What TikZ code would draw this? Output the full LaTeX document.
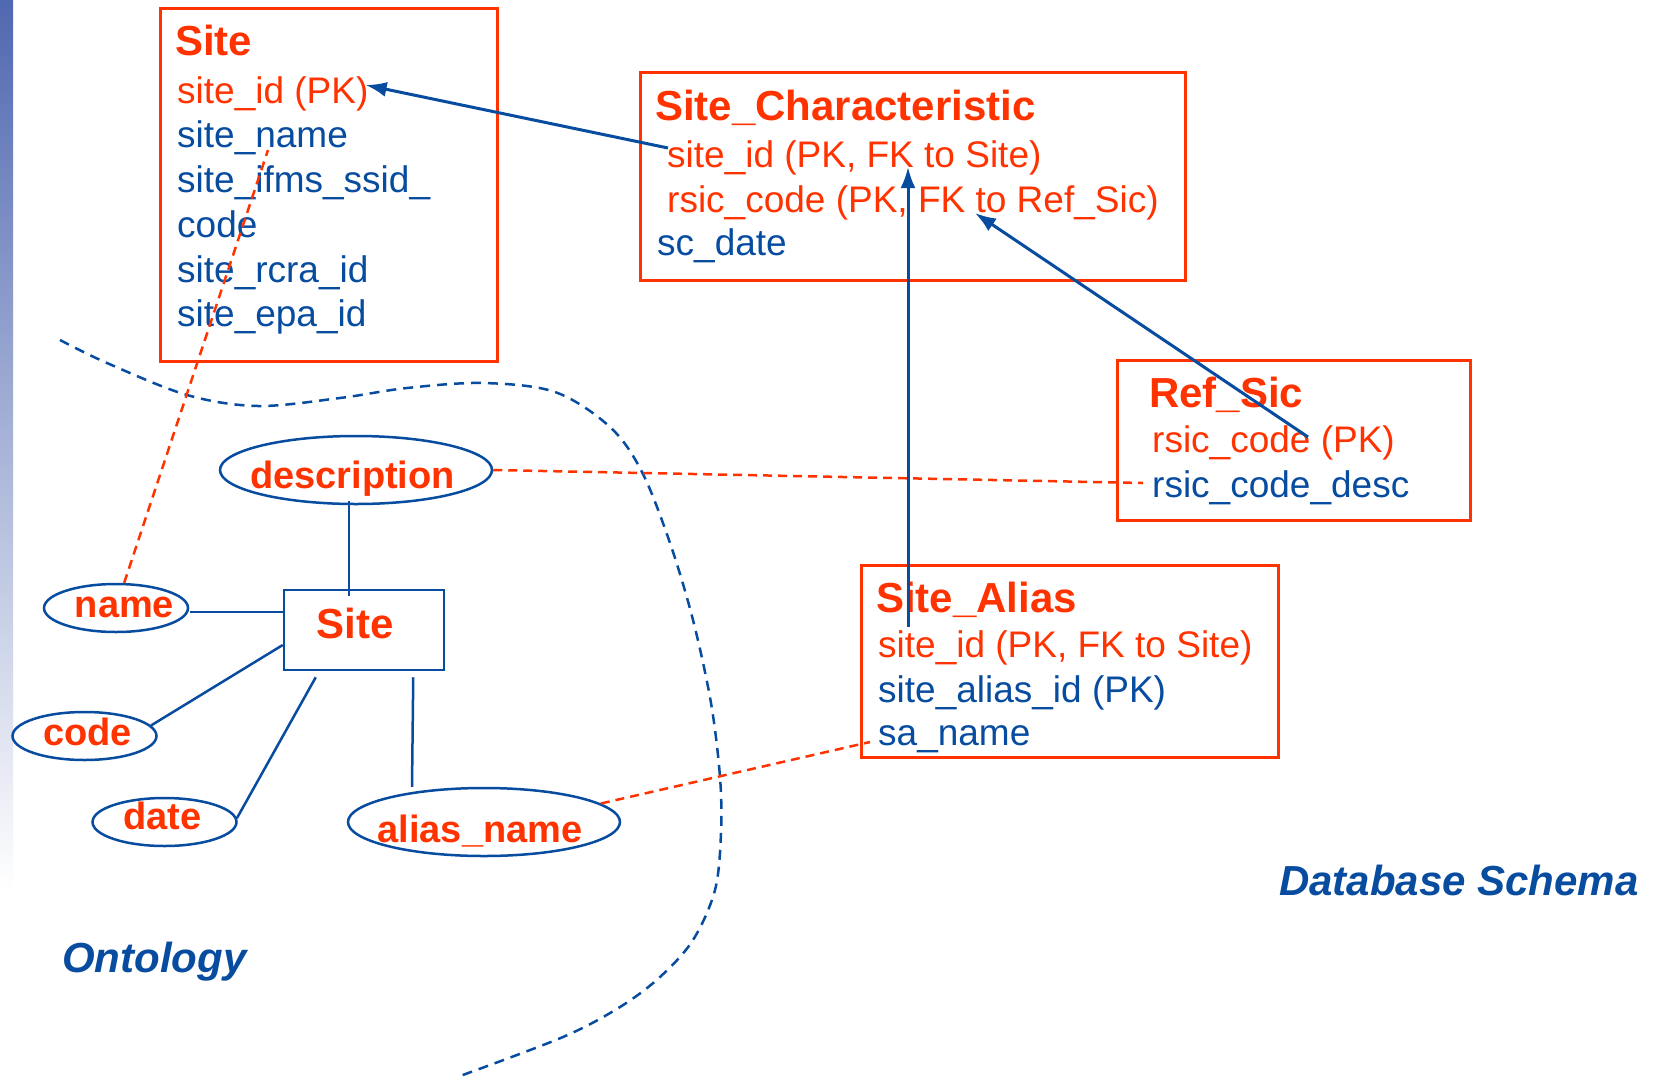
\documentclass[tikz,border=0pt]{standalone}
\usepackage{fontspec}
\setmainfont{Liberation Sans}
\usetikzlibrary{calc,arrows.meta,shapes.geometric}
\definecolor{orred}{RGB}{255,51,0}
\definecolor{dkblue}{RGB}{8,76,160}
\definecolor{stripblue}{RGB}{80,104,176}

\begin{document}
\begin{tikzpicture}[x=1pt,y=-1pt,
  dbbox/.style={draw=orred, line width=3pt, inner sep=0, anchor=north west},
  row/.style={anchor=base west, inner sep=0, font=\fontsize{37}{44}\selectfont},
  keyrow/.style={row, text=orred},
  plainrow/.style={row, text=dkblue},
  tabtitle/.style={anchor=base west, inner sep=0, text=orred, font=\fontsize{42}{50}\selectfont\bfseries},
  entity/.style={draw=dkblue, line width=2.5pt, inner sep=0, minimum width=160pt, minimum height=80pt},
  attr/.style={draw=dkblue, line width=2.5pt, ellipse, inner sep=0},
  smallattr/.style={attr, minimum width=144pt, minimum height=48pt},
  bigattr/.style={attr, minimum width=272pt, minimum height=68pt},
  attrlabel/.style={anchor=base, inner sep=0, text=orred, font=\fontsize{38}{46}\selectfont\bfseries},
  link/.style={draw=dkblue, line width=2.5pt},
  fk/.style={draw=dkblue, line width=3pt, -{Latex[length=21pt,width=15pt]}},
  map/.style={draw=orred, line width=2.5pt, dash pattern=on 9pt off 6pt},
  boundary/.style={draw=dkblue, line width=2.5pt, dash pattern=on 10pt off 7pt},
  caption/.style={anchor=base west, inner sep=0, text=dkblue, font=\fontsize{42}{50}\selectfont\bfseries\itshape}
]
% canvas
\fill[white] (0,0) rectangle (1655,1079);
\useasboundingbox (0,0) rectangle (1655,1079);
\shade[top color=stripblue, bottom color=white] (0,0) rectangle (13,890);

% border between the ontology and the schema
\draw[boundary] plot[smooth, tension=0.55] coordinates {(60,340) (107,363) (187,395) (258,406) (340,398) (407,388) (483,383) (555,392) (610,427) (642,472) (670,543) (693,620) (711,703) (720,777) (721,833) (715,890) (693,940) (660,977) (620,1007) (563,1037) (460,1076)};

% ---------- database tables ----------
\node[dbbox, minimum width=337pt, minimum height=353pt] (tsite) at (159,7) {};
\node[tabtitle] (site-t) at (175,55) {Site};
\node[keyrow] (site-r1) at (177,103) {site\_id (PK)};
\node[plainrow] (site-r2) at (177,147) {site\_name};
\node[plainrow] (site-r3) at (177,192) {site\_ifms\_ssid\_};
\node[plainrow] (site-r4) at (177,237) {code};
\node[plainrow] (site-r5) at (177,282) {site\_rcra\_id};
\node[plainrow] (site-r6) at (177,326) {site\_epa\_id};

\node[dbbox, minimum width=545pt, minimum height=208pt] (tsc) at (639,71) {};
\node[tabtitle] (sc-t) at (655,120) {Site\_Characteristic};
\node[keyrow] (sc-r1) at (667,167) {site\_id (PK, FK to Site)};
\node[keyrow] (sc-r2) at (667,212) {rsic\_code (PK, FK to Ref\_Sic)};
\node[plainrow] (sc-r3) at (657,255) {sc\_date};

\node[dbbox, minimum width=353pt, minimum height=160pt] (tref) at (1116,359) {};
\node[tabtitle] (ref-t) at (1149,407) {Ref\_Sic};
\node[keyrow] (ref-r1) at (1152,452) {rsic\_code (PK)};
\node[plainrow] (ref-r2) at (1152,497) {rsic\_code\_desc};

\node[dbbox, minimum width=417pt, minimum height=192pt] (talias) at (860,564) {};
\node[tabtitle] (sa-t) at (876,612) {Site\_Alias};
\node[keyrow] (sa-r1) at (878,657) {site\_id (PK, FK to Site)};
\node[plainrow] (sa-r2) at (878,702) {site\_alias\_id (PK)};
\node[plainrow] (sa-r3) at (878,745) {sa\_name};

% ---------- ontology ----------
\node[entity] (osite) at (364,630) {};
\node[attrlabel, font=\fontsize{42}{50}\selectfont\bfseries] (osite-l) at (355,638) {Site};

\node[bigattr] (odesc) at (356,470) {};
\node[attrlabel] (odesc-l) at (352.5,488) {description};
\node[smallattr] (oname) at (116,608) {};
\node[attrlabel] (oname-l) at (124.5,617) {name};
\node[smallattr] (ocode) at (84.5,736) {};
\node[attrlabel] (ocode-l) at (87.5,745) {code};
\node[smallattr] (odate) at (164.5,822) {};
\node[attrlabel] (odate-l) at (162.5,829) {date};
\node[bigattr] (oalias) at (484,822) {};
\node[attrlabel] (oalias-l) at (480,842) {alias\_name};

\draw[link] ($(odesc.south)+(-7,-4)$) -- ($(osite.north)+(-15,7)$);
\draw[link] ($(oname.east)+(1,4)$) -- ($(osite.west)+(0,-18)$);
\draw[link] (ocode.9) -- ($(osite.west)+(0,15)$);
\draw[link] (odate.3) -- ($(osite.south west)+(33,6)$);
\draw[link] ($(oalias.north)+(-72,0)$) -- ($(osite.south east)+(-32,6)$);

% ---------- ontology-to-schema mappings ----------
\draw[map] (oname.72) -- ($(site-r2.base west)+(91,3)$);
\draw[map] (odesc.east) -- ($(ref-r2.base west)+(-9,-14)$);
\draw[map] (oalias.9) -- ($(sa-r3.base west)+(-8,-3)$);

% ---------- foreign keys ----------
\draw[fk] ($(sc-r1.base west)+(1,-19)$) -- ($(site-r1.base east)+(-3,-18)$);
\coordinate (sa-fk) at ($(sa-r1.base west)+(30,-30)$);
\draw[fk] (sa-fk) -- (sa-fk |- sc-r1.base);
\draw[fk] ($(ref-r1.base west)+(156,-15)$) -- ($(sc-r2.base west)+(308,1)$);

% captions
\node[caption] (cap-onto) at (62,972) {Ontology};
\node[caption] (cap-db) at (1279,895) {Database Schema};
\end{tikzpicture}
\end{document}
